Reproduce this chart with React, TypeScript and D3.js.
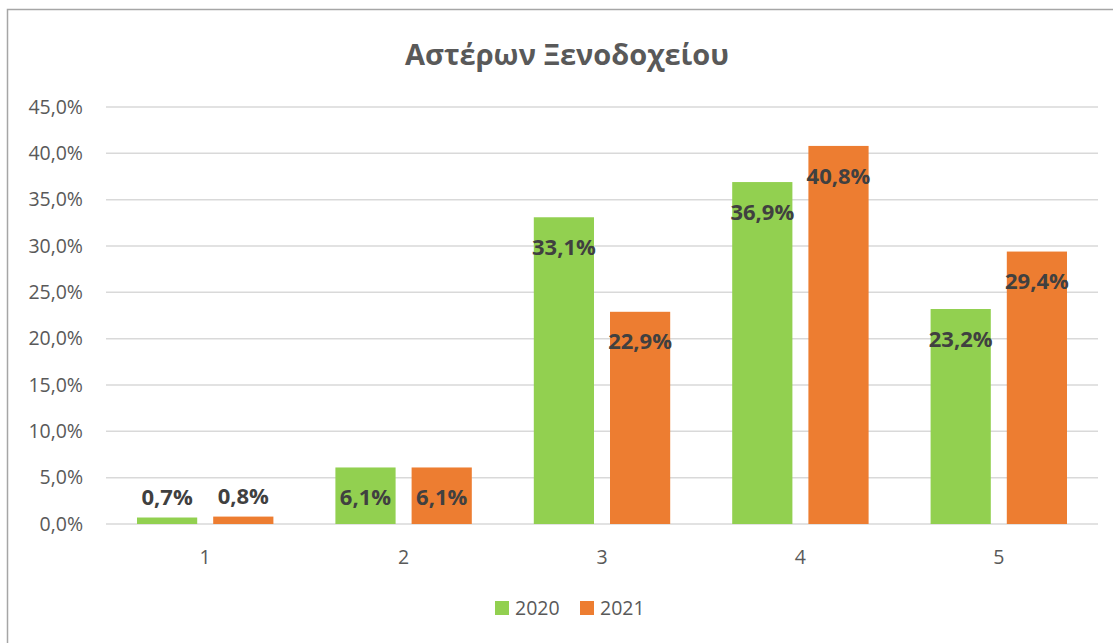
import React, { useRef, useEffect } from 'react';
import * as d3 from 'd3';

const categories = ['1', '2', '3', '4', '5'];
const seriesNames = ['2020', '2021'];
const values2020 = [0.7, 6.1, 33.1, 36.9, 23.2];
const values2021 = [0.8, 6.1, 22.9, 40.8, 29.4];
const yTicks = [0, 5, 10, 15, 20, 25, 30, 35, 40, 45];
const colors = ['#92d050', '#ed7d31'];

const fmt = (v: number) => v.toFixed(1).replace('.', ',') + '%';

export default function App() {
  const ref = useRef<SVGSVGElement>(null);

  useEffect(() => {
    const svg = d3.select(ref.current);
    svg.selectAll('*').remove();

    const width = 1113, height = 643;
    const plot = { left: 106, right: 1098, top: 107, bottom: 524 };
    const font = "'Open Sans', sans-serif";

    svg.append('rect')
      .attr('width', width).attr('height', height).attr('fill', '#fff');

    // outer chart border (runs off the right/bottom)
    svg.append('rect')
      .attr('x', 7.5).attr('y', 9.5)
      .attr('width', 1300).attr('height', 900)
      .attr('fill', 'none')
      .attr('stroke', '#a6a6a6')
      .attr('stroke-width', 1.5);

    svg.append('text')
      .attr('x', 567).attr('y', 55)
      .attr('dy', '0.35em')
      .attr('text-anchor', 'middle')
      .attr('fill', '#595959')
      .style('font-family', font)
      .style('font-size', '29px')
      .style('font-weight', '700')
      .text('Αστέρων Ξενοδοχείου');

    const x = d3.scaleBand<string>()
      .domain(categories)
      .range([plot.left, plot.right]);

    const inner = d3.scaleBand<string>()
      .domain(seriesNames)
      .range([31, x.bandwidth() - 31])
      .paddingInner(0.21);

    const y = d3.scaleLinear()
      .domain([0, 45])
      .range([plot.bottom, plot.top]);

    const grid = svg.append('g');
    grid.selectAll('line')
      .data(yTicks)
      .enter()
      .append('line')
      .attr('x1', plot.left).attr('x2', plot.right)
      .attr('y1', d => y(d)).attr('y2', d => y(d))
      .attr('stroke', '#d9d9d9')
      .attr('stroke-width', 1.5);

    svg.append('g').selectAll('text')
      .data(yTicks)
      .enter()
      .append('text')
      .attr('x', 83)
      .attr('y', d => y(d))
      .attr('dy', '0.35em')
      .attr('text-anchor', 'end')
      .attr('fill', '#595959')
      .style('font-family', font)
      .style('font-size', '19.5px')
      .text(d => fmt(d));

    svg.append('g').selectAll('text')
      .data(categories)
      .enter()
      .append('text')
      .attr('x', d => (x(d) as number) + x.bandwidth() / 2)
      .attr('y', 557)
      .attr('dy', '0.35em')
      .attr('text-anchor', 'middle')
      .attr('fill', '#595959')
      .style('font-family', font)
      .style('font-size', '19.5px')
      .text(d => d);

    const series = [values2020, values2021];
    series.forEach((vals, si) => {
      const g = svg.append('g');
      const rows = vals.map((v, i) => ({ cat: categories[i], v }));
      g.selectAll('rect')
        .data(rows)
        .enter()
        .append('rect')
        .attr('x', d => (x(d.cat) as number) + (inner(seriesNames[si]) as number))
        .attr('y', d => y(d.v))
        .attr('width', inner.bandwidth())
        .attr('height', d => y(0) - y(d.v))
        .attr('fill', colors[si]);

      g.selectAll('text')
        .data(rows)
        .enter()
        .append('text')
        .attr('x', d => (x(d.cat) as number) + (inner(seriesNames[si]) as number) + inner.bandwidth() / 2)
        .attr('y', d => (y(0) - y(d.v) < 40 ? y(d.v) - 20 : y(d.v) + 30))
        .attr('dy', '0.35em')
        .attr('text-anchor', 'middle')
        .attr('fill', '#404040')
        .style('font-family', font)
        .style('font-size', '22px')
        .style('font-weight', '700')
        .text(d => fmt(d.v));
    });

    const legend = svg.append('g');
    const legendX = [495, 580];
    seriesNames.forEach((name, i) => {
      legend.append('rect')
        .attr('x', legendX[i]).attr('y', 601)
        .attr('width', 14).attr('height', 14)
        .attr('fill', colors[i]);
      legend.append('text')
        .attr('x', legendX[i] + 20).attr('y', 608)
        .attr('dy', '0.35em')
        .attr('fill', '#595959')
        .style('font-family', font)
        .style('font-size', '19.5px')
        .text(name);
    });
  }, []);

  return (
    <div style={{ position: 'absolute', left: 0, top: 0 }}>
      <svg ref={ref} width={1113} height={643} style={{ display: 'block' }} />
    </div>
  );
}
